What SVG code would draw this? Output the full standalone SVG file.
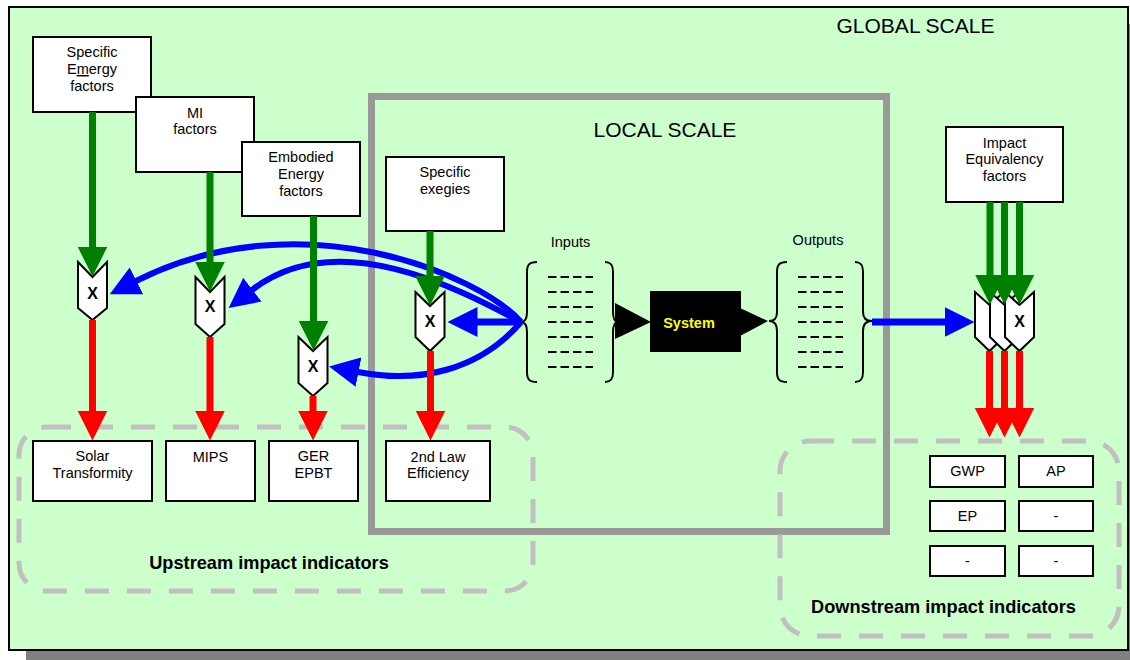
<svg xmlns="http://www.w3.org/2000/svg" width="1130" height="660" viewBox="0 0 1130 660">
<defs>
<style>
.box{fill:#fff;stroke:#000;stroke-width:2}
.t{font-family:"Liberation Sans",Arial,sans-serif;font-size:14.5px;text-anchor:middle;fill:#000}
.big{font-family:"Liberation Sans",Arial,sans-serif;font-size:21px;text-anchor:middle;fill:#000}
.bold{font-family:"Liberation Sans",Arial,sans-serif;font-size:18.2px;font-weight:bold;text-anchor:middle;fill:#000}
.chev{fill:#fff;stroke:#000;stroke-width:2;stroke-linejoin:miter}
.x{font-family:"Liberation Sans",Arial,sans-serif;font-size:16px;font-weight:bold;text-anchor:middle;fill:#000}
.g{stroke:#008000;stroke-width:7;fill:none;marker-end:url(#mg)}
.r{stroke:#FF0000;stroke-width:7;fill:none;marker-end:url(#mr)}
.b{stroke:#0000FF;stroke-width:6;fill:none;marker-end:url(#mb)}
.bo{stroke:#0000FF;stroke-width:7;fill:none;marker-end:url(#mb)}
.brace{fill:none;stroke:#000;stroke-width:2}
.dash{stroke:#000;stroke-width:2;stroke-dasharray:8.5 4}
.grp{fill:none;stroke:#C0C0C0;stroke-width:5;stroke-dasharray:24 18}
</style>
<marker id="mg" markerUnits="userSpaceOnUse" markerWidth="31" markerHeight="31" viewBox="0 -15.5 31 31" refX="0.5" refY="0" orient="auto"><path d="M0,-15 L30,0 L0,15 Z" fill="#008000"/></marker>
<marker id="mr" markerUnits="userSpaceOnUse" markerWidth="31" markerHeight="31" viewBox="0 -15.5 31 31" refX="0.5" refY="0" orient="auto"><path d="M0,-15 L30,0 L0,15 Z" fill="#FF0000"/></marker>
<marker id="mb" markerUnits="userSpaceOnUse" markerWidth="31" markerHeight="31" viewBox="0 -15.5 31 31" refX="0.5" refY="0" orient="auto"><path d="M0,-15 L30,0 L0,15 Z" fill="#0000FF"/></marker>
</defs>
<rect x="0" y="0" width="1130" height="660" fill="#fff"/>
<g id="global-scale">
<rect x="26" y="24" width="1119" height="643" fill="#808080"/>
<rect x="9" y="7" width="1119" height="643" fill="#CCFFCC" stroke="#000" stroke-width="2"/>
<text class="big" x="915.5" y="33">GLOBAL SCALE</text>
</g>
<g id="local-scale">
<rect x="371.5" y="96.5" width="515" height="435" fill="none" stroke="#999999" stroke-width="7"/>
<text class="big" x="665" y="137">LOCAL SCALE</text>
</g>
<g id="upstream-group">
<rect x="19" y="427" width="514" height="164" rx="28" ry="28" class="grp"/>
<text class="bold" x="269" y="569">Upstream impact indicators</text>
</g>
<g id="downstream-group">
<rect x="780" y="441" width="339" height="195" rx="30" ry="30" class="grp"/>
<text class="bold" x="943.5" y="613">Downstream impact indicators</text>
</g>
<g id="specific-emergy">
<rect x="33" y="37" width="118" height="75" class="box"/>
<text class="t" x="92" y="57">Specific</text>
<text class="t" x="92" y="74">E<tspan text-decoration="underline">m</tspan>ergy</text>
<text class="t" x="92" y="91">factors</text>
</g>
<g id="mi-factors">
<rect x="136" y="97" width="118" height="75" class="box"/>
<text class="t" x="195" y="118">MI</text>
<text class="t" x="195" y="134">factors</text>
</g>
<g id="embodied-energy">
<rect x="242" y="142" width="118" height="74" class="box"/>
<text class="t" x="301" y="162">Embodied</text>
<text class="t" x="301" y="179">Energy</text>
<text class="t" x="301" y="196">factors</text>
</g>
<g id="specific-exergies">
<rect x="386" y="157" width="118" height="74" class="box"/>
<text class="t" x="445" y="177">Specific</text>
<text class="t" x="445" y="194">exegies</text>
</g>
<g id="impact-equivalency">
<rect x="946" y="127" width="117" height="75" class="box"/>
<text class="t" x="1004.5" y="148">Impact</text>
<text class="t" x="1004.5" y="164">Equivalency</text>
<text class="t" x="1004.5" y="181">factors</text>
</g>
<g id="solar-transformity">
<rect x="33" y="441" width="119" height="60" class="box"/>
<text class="t" x="92.5" y="461">Solar</text>
<text class="t" x="92.5" y="478">Transformity</text>
</g>
<g id="mips">
<rect x="166" y="441" width="89" height="60" class="box"/>
<text class="t" x="210.5" y="462">MIPS</text>
</g>
<g id="ger-epbt">
<rect x="269" y="441" width="89" height="60" class="box"/>
<text class="t" x="313.5" y="461">GER</text>
<text class="t" x="313.5" y="478">EPBT</text>
</g>
<g id="second-law">
<rect x="386" y="441" width="104" height="60" class="box"/>
<text class="t" x="438" y="462">2nd Law</text>
<text class="t" x="438" y="478">Efficiency</text>
</g>
<g id="gwp"><rect x="930" y="456" width="75" height="31" class="box"/><text class="t" x="967.5" y="476">GWP</text></g>
<g id="ap"><rect x="1019" y="456" width="74" height="31" class="box"/><text class="t" x="1056" y="476">AP</text></g>
<g id="ep"><rect x="930" y="501" width="75" height="30" class="box"/><text class="t" x="967.5" y="521">EP</text></g>
<g id="blank1"><rect x="1019" y="501" width="74" height="30" class="box"/><text class="t" x="1056" y="521">-</text></g>
<g id="blank2"><rect x="930" y="546" width="75" height="30" class="box"/><text class="t" x="967.5" y="566">-</text></g>
<g id="blank3"><rect x="1019" y="546" width="74" height="30" class="box"/><text class="t" x="1056" y="566">-</text></g>
<g id="inputs">
<text class="t" x="570.5" y="247">Inputs</text>
<path class="brace" d="M537,262 C529,262 527,265 527,272 L527,312 C527,318 525,322 521,322 C525,322 527,326 527,332 L527,372 C527,379 529,382 537,382"/>
<path class="brace" d="M605,262 C611,262 613,265 613,272 L613,312 C613,318 615,322 618,322 C615,322 613,326 613,332 L613,372 C613,379 611,382 605,382"/>
<line class="dash" x1="548" y1="277" x2="593" y2="277"/>
<line class="dash" x1="548" y1="292" x2="593" y2="292"/>
<line class="dash" x1="548" y1="307" x2="593" y2="307"/>
<line class="dash" x1="548" y1="322" x2="593" y2="322"/>
<line class="dash" x1="548" y1="337" x2="593" y2="337"/>
<line class="dash" x1="548" y1="352" x2="593" y2="352"/>
<line class="dash" x1="548" y1="367" x2="593" y2="367"/>
</g>
<g id="outputs">
<text class="t" x="818" y="245">Outputs</text>
<path class="brace" d="M787,262 C779,262 777,265 777,272 L777,312 C777,318 775,321 769,321 C775,321 777,325 777,331 L777,372 C777,379 779,382 787,382"/>
<path class="brace" d="M855,262 C861,262 863,265 863,272 L863,312 C863,318 866,321 872,321 C866,321 863,325 863,331 L863,372 C863,379 861,382 855,382"/>
<line class="dash" x1="798" y1="277" x2="843" y2="277"/>
<line class="dash" x1="798" y1="292" x2="843" y2="292"/>
<line class="dash" x1="798" y1="307" x2="843" y2="307"/>
<line class="dash" x1="798" y1="322" x2="843" y2="322"/>
<line class="dash" x1="798" y1="337" x2="843" y2="337"/>
<line class="dash" x1="798" y1="352" x2="843" y2="352"/>
<line class="dash" x1="798" y1="367" x2="843" y2="367"/>
</g>
<g id="system">
<polygon points="615,303 651,322 615,339" fill="#000"/>
<rect x="650" y="291" width="91" height="61" fill="#000"/>
<polygon points="740,308 768,321 740,336" fill="#000"/>
<text x="689" y="328" font-family="Liberation Sans, Arial, sans-serif" font-size="14.5" font-weight="bold" fill="#FFFF00" text-anchor="middle">System</text>
</g>
<g id="mult-emergy">
<polygon class="chev" points="78,262 92.5,277 107,262 107,308 92.5,320 78,308"/>
<text class="x" x="92.5" y="299">X</text>
</g>
<g id="mult-mi">
<polygon class="chev" points="195.5,277 210,292 224.5,277 224.5,324 210,337 195.5,324"/>
<text class="x" x="210" y="312">X</text>
</g>
<g id="mult-embodied">
<polygon class="chev" points="298.5,337 313,351 327.5,337 327.5,383 313,396 298.5,383"/>
<text class="x" x="313" y="372">X</text>
</g>
<g id="mult-exergy">
<polygon class="chev" points="415.5,292 430,306 444.5,292 444.5,337 430,351 415.5,337"/>
<text class="x" x="430" y="327">X</text>
</g>
<g id="mult-impact">
<polygon class="chev" points="975,292 989.5,305 1004,292 1004,337 989.5,351 975,337"/>
<polygon class="chev" points="990,292 1004.5,305 1019,292 1019,337 1004.5,351 990,337"/>
<polygon class="chev" points="1005,292 1019.5,305 1034,292 1034,337 1019.5,351 1005,337"/>
<text class="x" x="1019.5" y="327">X</text>
</g>
<g id="connectors">
<path class="b" d="M521,322 C480,275 300,198 136,281"/>
<path class="b" d="M521,322 C470,295 340,222 252,290"/>
<path class="b" d="M521,322 C480,370 420,384 358,372"/>
<path class="bo" d="M521,322 L477,322"/>
<path class="bo" d="M872,322 L945,322"/>
<line class="g" x1="92.5" y1="112" x2="92.5" y2="247"/>
<line class="g" x1="210" y1="172" x2="210" y2="262"/>
<line class="g" x1="313.5" y1="216" x2="313.5" y2="321"/>
<line class="g" x1="430" y1="231" x2="430" y2="276"/>
<line class="g" x1="990" y1="202" x2="990" y2="275"/>
<line class="g" x1="1004.5" y1="202" x2="1004.5" y2="275"/>
<line class="g" x1="1019.5" y1="202" x2="1019.5" y2="275"/>
<line class="r" x1="92.5" y1="320" x2="92.5" y2="411"/>
<line class="r" x1="210" y1="337" x2="210" y2="411"/>
<line class="r" x1="313" y1="396" x2="313" y2="411"/>
<line class="r" x1="430.5" y1="351" x2="430.5" y2="411"/>
<line class="r" x1="989.5" y1="351" x2="989.5" y2="408"/>
<line class="r" x1="1004.5" y1="351" x2="1004.5" y2="408"/>
<line class="r" x1="1019.5" y1="351" x2="1019.5" y2="408"/>
</g>
</svg>
